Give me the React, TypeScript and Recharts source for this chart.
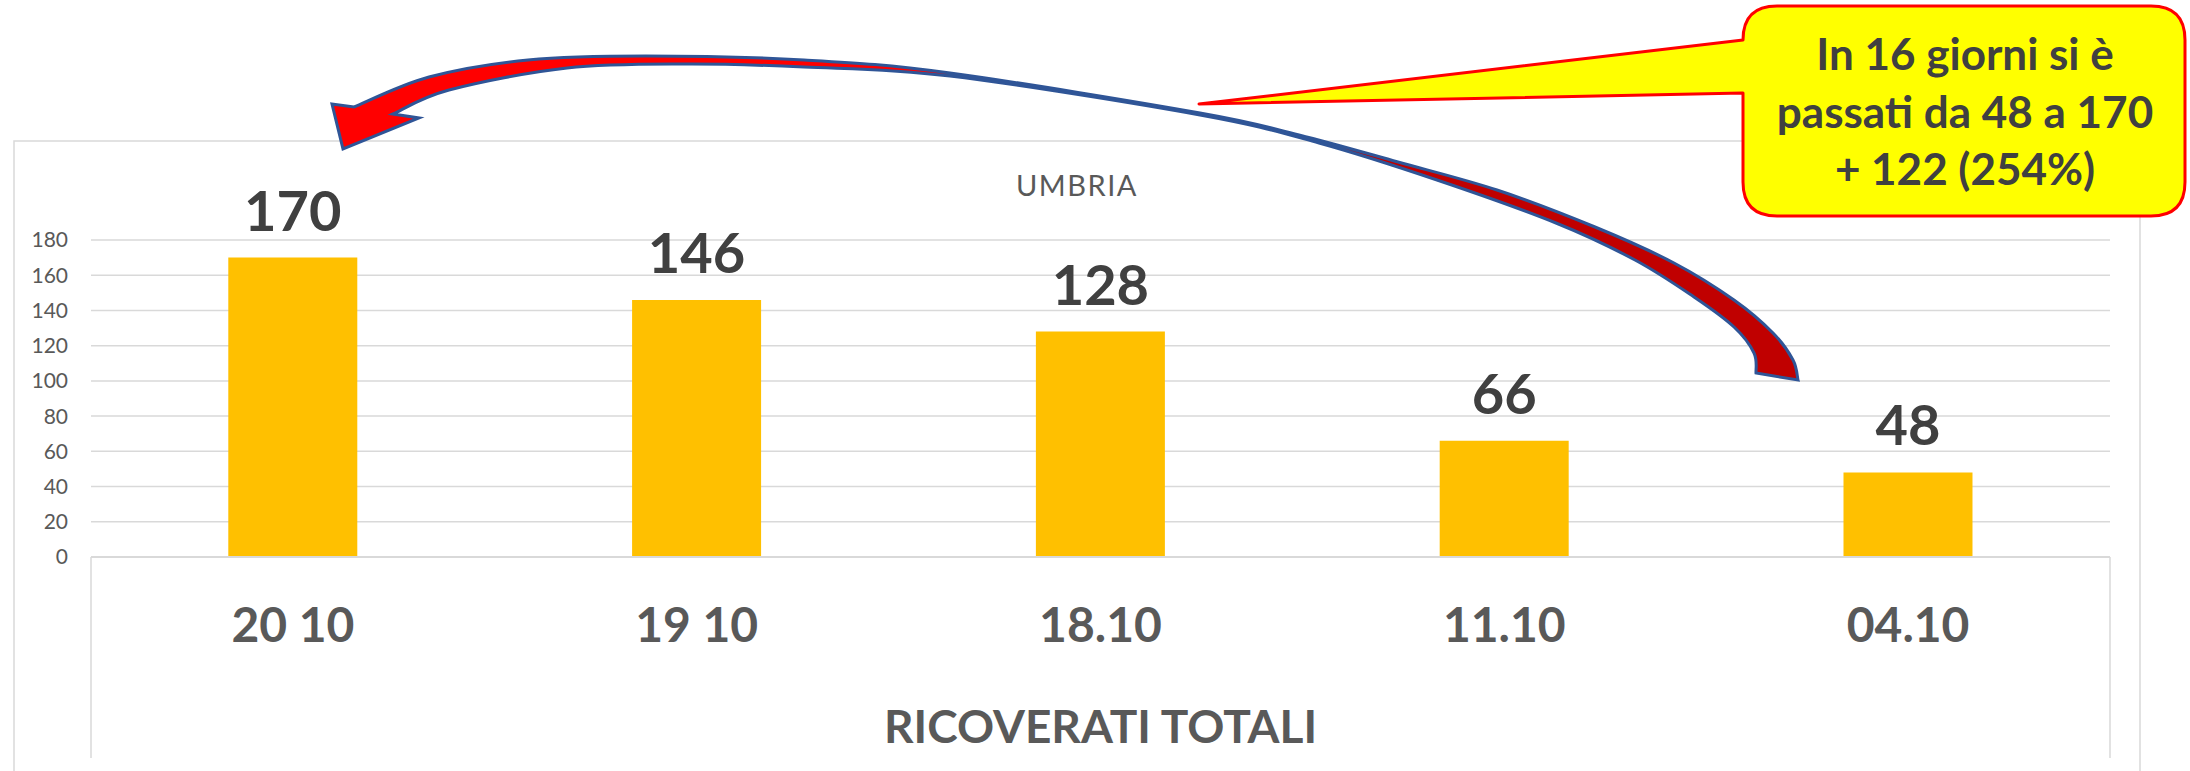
import React from "react";
import { Bar, BarChart, CartesianGrid, Customized, Label, LabelList, XAxis, YAxis } from "recharts";

const categories = ["20 10", "19 10", "18.10", "11.10", "04.10"];
const ricoverati = [170, 146, 128, 66, 48];
const yTicks = [0, 20, 40, 60, 80, 100, 120, 140, 160, 180];
const chartTitle = "UMBRIA";
const axisTitle = "RICOVERATI TOTALI";
const calloutLines = ["In 16 giorni si è", "passati da 48 a 170", "+ 122 (254%)"];

const data = categories.map((c, i) => ({ day: c, value: ricoverati[i] }));

const FONT = "Lato, 'Open Sans', sans-serif";
const GRID = "#D9D9D9";

type Pt = [number, number];

// catmull-rom through the points, as cubic segments
function smooth(pts: Pt[], move: boolean) {
  let d = `${move ? "M" : "L"}${pts[0][0]},${pts[0][1]}`;
  for (let i = 0; i < pts.length - 1; i++) {
    const p0 = pts[i - 1] || pts[i];
    const p1 = pts[i];
    const p2 = pts[i + 1];
    const p3 = pts[i + 2] || p2;
    const c1x = p1[0] + (p2[0] - p0[0]) / 6;
    const c1y = p1[1] + (p2[1] - p0[1]) / 6;
    const c2x = p2[0] - (p3[0] - p1[0]) / 6;
    const c2y = p2[1] - (p3[1] - p1[1]) / 6;
    d += ` C${c1x},${c1y} ${c2x},${c2y} ${p2[0]},${p2[1]}`;
  }
  return d;
}

const arrowOuter: Pt[] = [
  [354, 107], [429, 77], [528, 60], [646, 56], [804, 60], [950, 73], [1200, 113],
  [1299, 135], [1398, 162], [1497, 190], [1595, 227], [1674, 263], [1734, 300],
  [1773, 333], [1793, 360], [1798, 380],
];
const arrowInner: Pt[] = [
  [1756, 373], [1754, 353], [1734, 327], [1694, 297], [1635, 260], [1556, 223],
  [1437, 180], [1319, 143], [1200, 115], [950, 76], [804, 67], [686, 64],
  [567, 68], [449, 90], [393, 114],
];

function Decorations() {
  const arrow =
    smooth(arrowOuter, true) + " " + smooth(arrowInner, false) + " L419,118 L343,149 L332,104 Z";
  const r = 34;
  const callout =
    `M${1743 + r},6 H${2185 - r} Q2185,6 2185,${6 + r} V${216 - r} Q2185,216 ${2185 - r},216 ` +
    `H${1743 + r} Q1743,216 1743,${216 - r} V93 L1199,104 L1743,40 V${6 + r} Q1743,6 ${1743 + r},6 Z`;
  return (
    <g>
      <path d="M14,771 V141 H2140 V771" fill="none" stroke={GRID} strokeWidth={1.5} />
      <path d="M91,557 V758 M2110,557 V758" fill="none" stroke={GRID} strokeWidth={1.5} />
      <text x={1077} y={196} textAnchor="middle" fontFamily={FONT} fontSize={29} letterSpacing={1.5} fill="#595959">
        {chartTitle}
      </text>
      <defs>
        <linearGradient id="arrowFill" gradientUnits="userSpaceOnUse" x1="0" y1="0" x2="2190" y2="0">
          <stop offset="0.45" stopColor="#FF0000" />
          <stop offset="0.45" stopColor="#C00000" />
        </linearGradient>
      </defs>
      <path d={callout} fill="#FFFF00" stroke="#FF0000" strokeWidth={3} strokeLinejoin="round" />
      <path d={arrow} fill="url(#arrowFill)" stroke="#2F5597" strokeWidth={3} strokeLinejoin="miter" />
      {calloutLines.map((t, i) => (
        <text key={t} x={1965} y={70 + i * 57.5} textAnchor="middle" fontFamily={FONT} fontWeight="bold" fontSize={44} fill="#404040">
          {t}
        </text>
      ))}
    </g>
  );
}

export default function App() {
  return (
    <div style={{ position: "absolute", left: 0, top: 0, width: 2190, height: 771, background: "#fff" }}>
      <BarChart width={2190} height={771} data={data} margin={{ top: 240, right: 80, bottom: 0, left: 14 }} barCategoryGap="34%">
        <CartesianGrid vertical={false} stroke={GRID} strokeWidth={1.5} />
        <XAxis
          dataKey="day"
          height={214}
          tickLine={false}
          tickSize={0}
          tickMargin={51}
          axisLine={{ stroke: GRID, strokeWidth: 2 }}
          tick={{ fill: "#595959", fontSize: 48, fontWeight: "bold", fontFamily: FONT }}
        >
          <Label value={axisTitle} position="insideBottom" offset={28} fill="#595959" fontSize={46} fontWeight="bold" fontFamily={FONT} />
        </XAxis>
        <YAxis
          width={77}
          domain={[0, 180]}
          ticks={yTicks}
          interval={0}
          axisLine={false}
          tickLine={false}
          tickSize={0}
          tickMargin={23}
          tick={{ fill: "#595959", fontSize: 21, fontFamily: FONT }}
        />
        <Bar dataKey="value" fill="#FFC000" isAnimationActive={false}>
          <LabelList dataKey="value" position="top" offset={27} fill="#404040" fontSize={56} fontWeight="bold" fontFamily={FONT} />
        </Bar>
        <Customized component={<Decorations />} />
      </BarChart>
    </div>
  );
}
